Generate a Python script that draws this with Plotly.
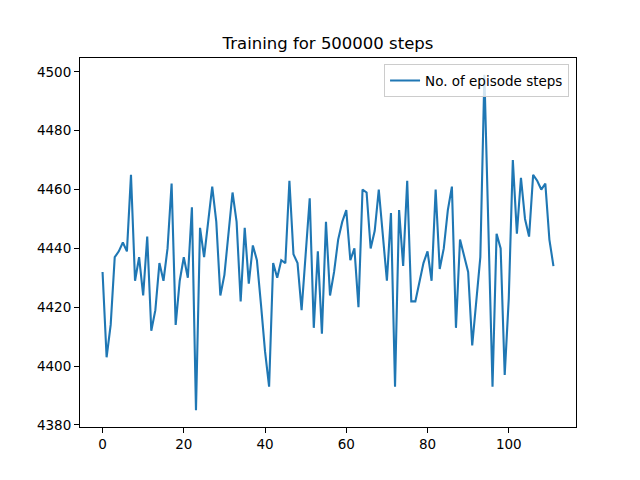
import plotly.graph_objects as go

LINE_COLOR = '#1f77b4'
FONT = 'DejaVu Sans'
POST_SCRIPT = 'document.body.style.margin = "0";'
CONFIG = {'displayModeBar': False}

episode_steps = [
    4432, 4403, 4414, 4437, 4439, 4442, 4439, 4465, 4429, 4437,
    4424, 4444, 4412, 4419, 4435, 4429, 4440, 4462, 4414, 4429,
    4437, 4430, 4454, 4385, 4447, 4437, 4449, 4461, 4449, 4424,
    4431, 4444, 4459, 4449, 4422, 4447, 4428, 4441, 4436, 4421,
    4405, 4393, 4435, 4430, 4436, 4435, 4463, 4438, 4435, 4419,
    4438, 4457, 4413, 4439, 4411, 4449, 4424, 4432, 4443, 4449,
    4453, 4436, 4440, 4420, 4460, 4459, 4440, 4446, 4460, 4444,
    4429, 4452, 4393, 4453, 4434, 4463, 4422, 4422, 4428, 4435,
    4439, 4429, 4460, 4433, 4440, 4453, 4461, 4413, 4443, 4437,
    4432, 4407, 4421, 4437, 4499, 4445, 4393, 4445, 4440, 4397,
    4423, 4470, 4445, 4464, 4450, 4444, 4465, 4463, 4460, 4462,
    4443, 4434,
]
episodes = list(range(len(episode_steps)))

x_ticks = [0, 20, 40, 60, 80, 100]
y_ticks = [4380, 4400, 4420, 4440, 4460, 4480, 4500]


def padded(values, pad=0.05):
    lo, hi = min(values), max(values)
    span = hi - lo
    return [lo - pad * span, hi + pad * span]


fig = go.Figure()
fig.add_trace(go.Scatter(
    x=episodes, y=episode_steps, mode='lines', name='No. of episode steps',
    line={'color': LINE_COLOR, 'width': 2.1},
))

axis_style = {
    'showline': True, 'mirror': True, 'linecolor': 'black', 'linewidth': 1.1,
    'ticks': 'outside', 'ticklen': 5, 'tickwidth': 1.1, 'tickcolor': 'black',
    'showgrid': False, 'zeroline': False,
    'tickfont': {'family': FONT, 'size': 13.5, 'color': 'black'},
}

fig.update_layout(
    width=640, height=480,
    margin={'l': 80, 'r': 64, 't': 58, 'b': 53},
    paper_bgcolor='white', plot_bgcolor='white',
    font={'family': FONT, 'color': 'black'},
    title={'text': 'Training for 500000 steps', 'x': 0.5, 'xref': 'paper', 'xanchor': 'center',
           'y': 1 - 43 / 480, 'yanchor': 'middle', 'font': {'size': 16.5, 'family': FONT}},
    xaxis={**axis_style, 'range': padded(episodes), 'tickvals': x_ticks},
    yaxis={**axis_style, 'range': padded(episode_steps), 'tickvals': y_ticks},
    showlegend=True,
    legend={'x': 0.986, 'y': 0.983, 'xanchor': 'right', 'yanchor': 'top',
            'bgcolor': 'rgba(255,255,255,0.8)', 'bordercolor': '#cccccc', 'borderwidth': 1,
            'font': {'family': FONT, 'size': 13.5}, 'itemwidth': 30},
)

fig.write_html('out.html', config=CONFIG, post_script=[POST_SCRIPT])
